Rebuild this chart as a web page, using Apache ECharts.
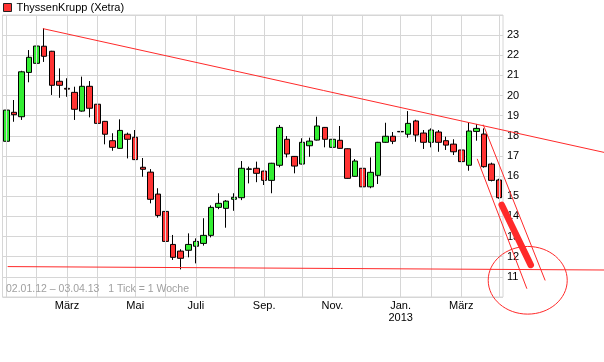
<!DOCTYPE html>
<html><head><meta charset="utf-8">
<script src="https://cdn.jsdelivr.net/npm/echarts@6/dist/echarts.min.js"></script>
<style>html,body{margin:0;padding:0;background:#fff}#c{width:604px;height:362px}</style>
</head><body><div id="c"></div>
<script>
// Weekly candles, 02.01.12 - 03.04.13 (week start dates)
const weeks = [
 '2012-01-02','2012-01-09','2012-01-16','2012-01-23','2012-01-30',
 '2012-02-06','2012-02-13','2012-02-20','2012-02-27',
 '2012-03-05','2012-03-12','2012-03-19','2012-03-26',
 '2012-04-02','2012-04-09','2012-04-16','2012-04-23','2012-04-30',
 '2012-05-07','2012-05-14','2012-05-21','2012-05-28',
 '2012-06-04','2012-06-11','2012-06-18','2012-06-25',
 '2012-07-02','2012-07-09','2012-07-16','2012-07-23','2012-07-30',
 '2012-08-06','2012-08-13','2012-08-20','2012-08-27',
 '2012-09-03','2012-09-10','2012-09-17','2012-09-24',
 '2012-10-01','2012-10-08','2012-10-15','2012-10-22','2012-10-29',
 '2012-11-05','2012-11-12','2012-11-19','2012-11-26',
 '2012-12-03','2012-12-10','2012-12-17','2012-12-24','2012-12-31',
 '2013-01-07','2013-01-14','2013-01-21','2013-01-28',
 '2013-02-04','2013-02-11','2013-02-18','2013-02-25',
 '2013-03-04','2013-03-11','2013-03-18','2013-03-25',
 '2013-04-01'
];
const openV  = [17.73,19.17,18.95,21.15,21.60,22.45,22.20,20.71,20.36,20.16,19.23,20.46,19.57,18.72,17.76,17.38,18.08,17.93,16.44,16.20,15.11,14.25,12.61,12.28,12.32,12.52,12.66,13.06,14.45,14.40,14.85,14.93,16.34,16.39,16.25,15.79,16.54,17.83,16.98,16.60,17.51,17.79,18.42,17.43,17.78,17.36,15.99,16.39,15.47,16.04,17.68,17.98,18.22,18.08,18.74,18.14,17.68,18.19,17.76,17.59,17.30,16.54,18.22,18.09,16.60,15.81];
const closeV = [19.28,19.05,21.18,21.90,22.46,21.95,20.51,20.51,20.32,19.32,20.46,19.37,18.62,18.08,17.43,18.27,17.83,16.82,16.34,14.85,14.05,12.76,11.97,11.92,12.61,12.76,13.06,14.45,14.65,14.76,14.95,16.39,16.36,16.14,15.79,16.64,18.42,17.10,16.50,17.68,17.74,18.49,17.83,17.83,17.38,15.89,16.75,15.47,16.19,17.68,17.98,17.73,18.20,18.62,18.04,17.68,18.29,17.68,17.54,17.21,16.72,18.24,18.37,16.47,15.79,14.93];
const lowV   = [17.70,18.70,18.79,20.66,20.44,21.67,20.03,19.89,19.94,18.79,19.20,18.92,18.21,17.58,17.26,17.36,16.88,16.80,15.97,14.65,13.94,12.53,11.84,11.37,11.97,11.67,12.55,12.96,14.36,13.44,14.28,14.81,15.64,15.70,15.56,15.15,16.44,16.93,16.14,16.58,16.96,17.77,17.43,17.01,17.36,15.87,15.97,15.38,15.40,15.61,17.65,17.59,18.04,17.91,17.71,17.35,17.43,17.21,17.30,17.05,16.59,16.27,17.76,16.42,15.74,14.88];
const highV  = [19.48,19.78,21.23,22.26,22.72,23.34,22.22,21.35,20.86,20.44,20.94,20.72,19.78,18.74,18.13,18.82,18.16,18.29,16.90,16.35,15.40,14.45,13.08,12.37,13.16,12.91,13.91,14.55,15.15,14.81,15.15,16.75,16.47,16.72,16.27,16.66,18.54,17.99,17.00,17.88,17.91,18.95,18.44,18.01,18.49,17.38,16.85,16.41,16.93,17.70,18.65,18.19,18.67,19.23,18.80,18.29,18.37,18.29,17.96,17.83,17.76,18.65,18.59,18.37,16.67,15.87];

// month gridlines (week containing the 1st of each month) and tick labels
const gridWeeks  = [0,4,8,12,17,21,25,30,34,39,43,47,52,56,60,65];
const labelWeeks = [8,17,25,34,43,52,60];
const labelTexts = ['März','Mai','Juli','Sep.','Nov.','Jan.\n2013','März'];

const seriesName = 'ThyssenKrupp (Xetra)';
const infoText = '02.01.12 – 03.04.13   1 Tick = 1 Woche';

// hand-drawn annotations in data units [week index, price]
const trendTop   = [[4.88,23.32],[78.82,17.18]];
const supportLn  = [[0.23,11.51],[78.82,11.34]];
const chanA      = [[62.91,18.54],[71.04,10.84]];
const chanB      = [[62.12,16.84],[68.63,10.43]];
const thickLn    = [[65.33,14.57],[69.16,11.59]];
const circleC    = [68.76,10.83];
const circleR    = [5.21,1.68];

const RED = '#ff2a2a';
const chart = echarts.init(document.getElementById('c'));
const candles = openV.map((o,i)=>[o, closeV[i], lowV[i], highV[i]]);

chart.setOption({
  animation:false,
  backgroundColor:'#fff',
  textStyle:{fontFamily:'Liberation Sans'},
  legend:{left:3,top:2,padding:0,itemWidth:8,itemHeight:8,icon:'rect',
    textStyle:{fontSize:11,color:'#000',fontFamily:'Liberation Sans'},
    data:[{name:seriesName,itemStyle:{color:'#ff3333',borderColor:'#222',borderWidth:1}}]},
  grid:{left:2.5,right:101,top:15,bottom:65,show:true,borderColor:'#d6d6d6',borderWidth:1},
  xAxis:[{type:'category',data:weeks,boundaryGap:true,
      axisLine:{show:false},axisTick:{show:false},splitLine:{show:false},
      axisLabel:{interval:(i)=>labelWeeks.includes(i),
        formatter:(v,i)=>{const k=labelWeeks.indexOf(i);return k>=0?labelTexts[k]:'';},
        fontSize:11,color:'#000',margin:3,lineHeight:12,fontFamily:'Liberation Sans'}},
    {type:'value',min:-0.5,max:65.5,show:false}],
  yAxis:{type:'value',position:'right',min:10,max:24,interval:1,
    axisLine:{show:false},axisTick:{show:false},
    splitLine:{lineStyle:{color:'#d6d6d6',width:1}},
    axisLabel:{fontSize:11,color:'#000',margin:4,showMinLabel:false,showMaxLabel:false,fontFamily:'Liberation Sans'}},
  series:[
    {type:'line',name:'grid',data:closeV,xAxisIndex:0,z:0,showSymbol:false,silent:true,
      lineStyle:{opacity:0},legendHoverLink:false,
      markLine:{silent:true,symbol:['none','none'],label:{show:false},animation:false,
        lineStyle:{color:'#d6d6d6',width:1,type:'solid'},
        data:gridWeeks.map(i=>({xAxis:weeks[i]}))}},
    {type:'candlestick',name:seriesName,data:candles,xAxisIndex:0,z:3,barWidth:6,
      itemStyle:{color:'#33ee33',color0:'#ff3333',borderColor:'#000',borderColor0:'#000',borderColorDoji:'#000',borderWidth:1}}
  ]
});

function px(p){return chart.convertToPixel({xAxisIndex:1,yAxisIndex:0},p);}
function seg(a,w){const p1=px(a[0]),p2=px(a[1]);
  return {type:'line',z:50,silent:true,shape:{x1:p1[0],y1:p1[1],x2:p2[0],y2:p2[1]},
    style:{stroke:RED,lineWidth:w,lineCap:'round'}};}
const c = px(circleC);
const r1 = px([circleC[0]+circleR[0],circleC[1]+circleR[1]]);
chart.setOption({graphic:[
  {type:'text',z:40,silent:true,style:{x:6,y:289,text:infoText,fill:'#a0a0a0',font:'10.5px "Liberation Sans"',verticalAlign:'middle'}},
  seg(trendTop,1), seg(supportLn,1), seg(chanA,1), seg(chanB,1), seg(thickLn,6.5),
  {type:'ellipse',z:50,silent:true,shape:{cx:c[0],cy:c[1],rx:Math.abs(r1[0]-c[0]),ry:Math.abs(r1[1]-c[1])},
    style:{fill:'none',stroke:RED,lineWidth:1}}
]});
</script></body></html>
